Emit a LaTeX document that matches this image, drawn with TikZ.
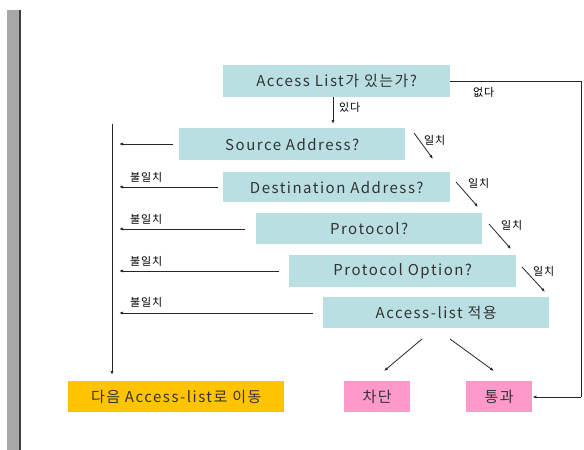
\documentclass[tikz,border=0pt]{standalone}
\usepackage{fontspec}
\setmainfont{Noto Sans CJK KR}
\newfontfamily\boxfont[LetterSpace=10]{Noto Sans CJK KR}
\newfontfamily\lblfont[LetterSpace=8]{Noto Sans CJK KR}
\usetikzlibrary{arrows.meta}
\definecolor{boxteal}{HTML}{B9DFE2}
\definecolor{boxgold}{HTML}{FFC400}
\definecolor{boxpink}{HTML}{FF99CC}
\definecolor{txt}{HTML}{333333}
\definecolor{bargray}{HTML}{A8A8A8}
\tikzset{
  x=1pt, y=-1pt,
  qbox/.style={fill=boxteal, inner sep=0pt, text=txt, font=\boxfont\fontsize{15}{17}\selectfont},
  ebox/.style={inner sep=0pt, text=txt, font=\boxfont\fontsize{15}{17}\selectfont},
  lbl/.style={inner sep=0pt, text=black, font=\lblfont\fontsize{11}{12}\selectfont},
  conn/.style={draw=black!85, line width=0.8pt, -{Latex[length=4pt,width=3pt]}},
  plain/.style={draw=black!85, line width=0.8pt}
}
\begin{document}
\begin{tikzpicture}
\useasboundingbox (0,0) rectangle (584,450);
\fill[white] (0,0) rectangle (584,450);
% gray bar
\fill[bargray] (7,10) rectangle (19,450);
\fill[black!75] (19,10) rectangle (20.5,450);

% boxes
\node[qbox, minimum width=227pt, minimum height=32pt, anchor=north west] (q0) at (223,65) {Access List가 있는가?};
\node[qbox, minimum width=226pt, minimum height=32pt, anchor=north west] (q1) at (179,128) {Source Address?};
\node[qbox, minimum width=227pt, minimum height=30pt, anchor=north west] (q2) at (223,172) {Destination Address?};
\node[qbox, minimum width=226pt, minimum height=31pt, anchor=north west] (q3) at (256,213) {Protocol?};
\node[qbox, minimum width=227pt, minimum height=32pt, anchor=north west] (q4) at (289,255) {Protocol Option?};
\node[qbox, minimum width=226pt, minimum height=31pt, anchor=north west] (q5) at (323,297) {Access-list 적용};

\node[ebox, fill=boxgold, minimum width=216pt, minimum height=31pt, anchor=north west] (next) at (68,381) {다음 Access-list로 이동};
\node[ebox, fill=boxpink, minimum width=66pt, minimum height=31pt, anchor=north west] (deny) at (344,381) {차단};
\node[ebox, fill=boxpink, minimum width=66pt, minimum height=31pt, anchor=north west] (pass) at (466,381) {통과};

% 있다 / 없다
\draw[conn] (q0.south -| 333,0) -- (333,124);
\node[lbl, anchor=west] (l0) at (339,107) {있다};
\coordinate (rtop) at (581,81);
\coordinate (rbot) at (581,397);
\draw[plain] (q0.east |- rtop) -- (rtop) -- (rbot);
\draw[conn] (rbot) -- (pass.east |- rbot);
\node[lbl, anchor=west] (l1) at (473,92) {없다};

% left trunk
\coordinate (ltop) at (112,124);
\coordinate (lbot) at (112,375);
\draw[conn] (ltop) -- (lbot);

% 불일치 arrows
\coordinate (m1) at (173,144);
\coordinate (m2) at (218,187);
\coordinate (m3) at (245,229);
\coordinate (m4) at (279,271);
\coordinate (m5) at (313,313);
\foreach \m in {m1,m2,m3,m4,m5}{
  \draw[conn] (\m) -- (119,0 |- \m);
}
\node[lbl, anchor=west] (n2) at (130,177) {불일치};
\node[lbl, anchor=west] (n3) at (130,219) {불일치};
\node[lbl, anchor=west] (n4) at (130,261) {불일치};
\node[lbl, anchor=west] (n5) at (130,302) {불일치};

% 일치 arrows
\coordinate (a1) at (414,133); \coordinate (b1) at (433,159);
\coordinate (a2) at (456,182); \coordinate (b2) at (478,207);
\coordinate (a3) at (489,224); \coordinate (b3) at (511,249);
\coordinate (a4) at (522,267); \coordinate (b4) at (545,292);
\draw[conn] (a1) -- (b1);
\draw[conn] (a2) -- (b2);
\draw[conn] (a3) -- (b3);
\draw[conn] (a4) -- (b4);
\node[lbl, anchor=west] (y1) at (424,140) {일치};
\node[lbl, anchor=west] (y2) at (468,183) {일치};
\node[lbl, anchor=west] (y3) at (501,225) {일치};
\node[lbl, anchor=west] (y4) at (533,271) {일치};

% results
\coordinate (d1) at (422,339); \coordinate (d2) at (384,371);
\coordinate (p1) at (450,339); \coordinate (p2) at (494,371);
\draw[conn] (d1) -- (d2);
\draw[conn] (p1) -- (p2);
\end{tikzpicture}
\end{document}
